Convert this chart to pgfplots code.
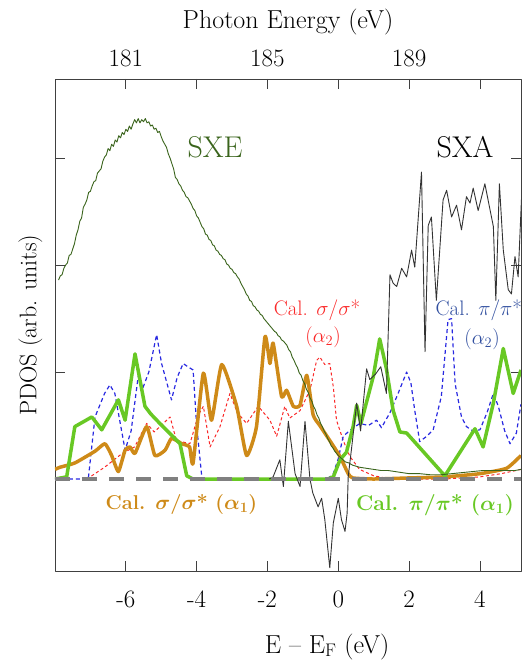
\documentclass[border=0pt]{standalone}
\usepackage{amsmath}
\usepackage{fontspec}
\usepackage{pgfplots}
\pgfplotsset{compat=1.18}
\definecolor{sxegreen}{RGB}{58,100,28}
\definecolor{pigreen}{RGB}{104,200,36}
\definecolor{sigorange}{RGB}{206,138,24}
\definecolor{sigred}{RGB}{250,40,40}
\definecolor{piblue}{RGB}{40,40,225}
\definecolor{pitext}{RGB}{50,80,160}
\definecolor{zerogray}{RGB}{128,128,128}
\newcommand{\fs}{\fontsize{25}{29}\selectfont}
\newcommand{\fl}{\fontsize{26}{30}\selectfont}
\newcommand{\fy}{\fontsize{24}{28}\selectfont}
\newcommand{\fc}{\fontsize{21}{25}\selectfont}

\begin{document}
\begin{tikzpicture}
\useasboundingbox (-55pt,-93pt) rectangle (473pt,571pt);
\begin{axis}[
  at={(0pt,0pt)}, anchor=south west,
  width=466pt, height=492pt, scale only axis,
  xmin=-8, xmax=5.16, ymin=-0.86, ymax=3.74,
  xtick={-6,-4,-2,0,2,4}, xticklabels={-6,-4,-2,0,2,4},
  ytick={1,2,3}, yticklabels={},
  major tick length=10pt,
  tick style={black!75, line width=0.8pt},
  axis line style={black!75, line width=0.9pt},
  tick label style={font=\fs},
  xticklabel style={anchor=base, yshift=-36pt},
  xlabel={E -- E$_{\mathrm{F}}$ (eV)},
  xlabel style={font=\fl, at={(axis description cs:0.584,0)}, anchor=base, yshift=-82pt},
  ylabel={PDOS (arb. units)},
  ylabel style={font=\fy, at={(axis description cs:-0.040,0.5)}, anchor=base},
  clip mode=individual,
  line join=round,
]
% ---- calculated alpha2 (dashed) ----
\addplot[sigred, line width=1pt, dash pattern=on 3pt off 2.5pt] coordinates {
(-7.1,0.0) (-6.6,0.11) (-6.1,0.24) (-5.75,0.30) (-5.41,0.52) (-5.2,0.44) (-5.0,0.50)
(-4.75,0.58) (-4.57,0.36) (-4.19,0.33) (-3.95,0.60) (-3.81,0.68) (-3.62,0.30) (-3.34,0.49)
(-3.06,0.80) (-2.85,0.62) (-2.59,0.52) (-2.26,0.68) (-1.93,0.55) (-1.74,0.40) (-1.51,0.68)
(-1.37,0.57) (-1.08,0.64) (-0.80,0.83) (-0.61,1.11) (-0.52,1.14) (-0.38,1.07) (-0.24,1.08)
(-0.14,0.86) (-0.05,0.55) (0.14,0.36) (0.33,0.21) (0.6,0.09) (1.0,0.03) (1.5,0.0)
(3.0,0.0) (4.0,0.02) (4.6,0.05) (5.16,0.09)};
\addplot[piblue, line width=1.2pt, dash pattern=on 4pt off 3pt] coordinates {
(-8,0) (-7.06,0) (-6.87,0.58) (-6.6,0.80) (-6.45,0.88) (-6.31,0.80) (-6.02,0.27)
(-5.85,0.45) (-5.65,0.96) (-5.52,0.85) (-5.35,1.0) (-5.13,1.35) (-4.99,1.08) (-4.71,0.74)
(-4.55,0.95) (-4.38,1.08) (-4.25,1.05) (-4.1,1.02) (-4.0,0.50) (-3.86,0.04) (-3.8,0)
(-0.3,0) (-0.14,0.05) (0.0,0.19) (0.14,0.40) (0.35,0.46) (0.61,0.52) (0.85,0.50)
(1.08,0.55) (1.22,0.48) (1.46,0.62) (1.69,0.80) (1.93,1.0) (2.05,0.90) (2.16,0.64)
(2.30,0.35) (2.5,0.40) (2.68,0.46) (2.91,0.77) (3.1,1.49) (3.2,1.50) (3.3,0.89)
(3.48,0.58) (3.62,0.49) (3.8,0.45) (4.0,0.46) (4.2,0.62) (4.38,0.80) (4.52,0.68)
(4.7,0.45) (4.85,0.33) (5.03,0.43) (5.16,0.70)};
% ---- calculated alpha1 (thick) ----
\addplot[sigorange, line width=3.5pt, smooth, tension=0.3] coordinates {
(-8.0,0.09) (-7.86,0.11) (-7.44,0.15) (-6.87,0.26) (-6.59,0.33) (-6.40,0.22) (-6.21,0.07)
(-6.02,0.27) (-5.88,0.30) (-5.74,0.24) (-5.41,0.49) (-5.18,0.22) (-4.89,0.27) (-4.71,0.38)
(-4.42,0.33) (-4.20,0.30) (-4.10,0.15) (-3.81,0.99) (-3.58,0.55) (-3.29,1.07) (-2.87,0.68)
(-2.59,0.22) (-2.31,0.49) (-2.07,1.33) (-1.93,1.08) (-1.84,1.27) (-1.60,0.77) (-1.46,0.83)
(-1.27,0.68) (-1.08,0.69) (-0.89,0.97) (-0.71,0.60) (-0.52,0.50) (-0.24,0.36) (0.05,0.21)
(0.28,0.05) (0.41,0.01) (1.0,0.0) (2.0,0.01) (3.0,0.02) (4.0,0.05) (4.75,0.10) (5.16,0.22)};
\addplot[pigreen, line width=3.5pt] coordinates {
(-8.0,0.0) (-7.67,0.02) (-7.44,0.49) (-6.96,0.58) (-6.68,0.46) (-6.21,0.74) (-6.02,0.55)
(-5.74,1.17) (-5.46,0.68) (-5.30,0.61) (-5.04,0.52) (-4.47,0.33) (-4.28,0.03) (-4.1,0.0)
(-0.3,0.0) (-0.14,0.02) (0.05,0.18) (0.23,0.25) (0.42,0.49) (0.52,0.69) (0.64,0.52)
(0.99,0.96) (1.17,1.31) (1.36,1.03) (1.55,0.64) (1.74,0.44) (1.93,0.43) (2.12,0.36)
(3.01,0.03) (3.86,0.47) (4.09,0.30) (4.38,0.71) (4.66,1.22) (4.94,0.80) (5.16,1.02)};
% ---- SXE ----
\addplot[sxegreen, line width=0.9pt] coordinates {
(-7.90,1.86) (-7.85,1.90) (-7.80,1.91) (-7.75,1.97) (-7.70,2.00) (-7.65,2.02) (-7.60,2.09)
(-7.55,2.10) (-7.50,2.15) (-7.45,2.20) (-7.40,2.28) (-7.35,2.33) (-7.30,2.41) (-7.25,2.44)
(-7.20,2.54) (-7.15,2.57) (-7.10,2.61) (-7.05,2.68) (-7.00,2.69) (-6.95,2.74) (-6.90,2.78)
(-6.85,2.79) (-6.80,2.86) (-6.75,2.88) (-6.70,2.90) (-6.65,2.97) (-6.60,3.01) (-6.55,3.03)
(-6.50,3.09) (-6.45,3.07) (-6.40,3.13) (-6.35,3.11) (-6.30,3.17) (-6.25,3.15) (-6.20,3.21)
(-6.15,3.19) (-6.10,3.24) (-6.05,3.22) (-6.00,3.27) (-5.95,3.25) (-5.90,3.30) (-5.85,3.27)
(-5.80,3.32) (-5.75,3.36) (-5.70,3.33) (-5.65,3.37) (-5.60,3.33) (-5.55,3.36) (-5.50,3.34)
(-5.45,3.37) (-5.40,3.33) (-5.35,3.34) (-5.30,3.30) (-5.25,3.31) (-5.20,3.27) (-5.15,3.28)
(-5.10,3.24) (-5.05,3.25) (-5.00,3.20) (-4.95,3.16) (-4.90,3.13) (-4.85,3.10) (-4.80,3.04)
(-4.75,3.00) (-4.70,2.95) (-4.65,2.90) (-4.60,2.82) (-4.55,2.80) (-4.50,2.76) (-4.45,2.74)
(-4.40,2.70) (-4.35,2.68) (-4.30,2.64) (-4.25,2.63) (-4.20,2.60) (-4.15,2.57) (-4.10,2.53)
(-4.05,2.51) (-4.00,2.46) (-3.95,2.44) (-3.90,2.40) (-3.85,2.36) (-3.80,2.34) (-3.75,2.29)
(-3.70,2.28) (-3.65,2.24) (-3.60,2.23) (-3.55,2.19) (-3.50,2.18) (-3.45,2.14) (-3.40,2.13)
(-3.35,2.10) (-3.30,2.09) (-3.25,2.06) (-3.20,2.05) (-3.15,2.01) (-3.10,2.00) (-3.05,1.97)
(-3.00,1.96) (-2.95,1.93) (-2.90,1.92) (-2.85,1.89) (-2.80,1.87) (-2.75,1.83) (-2.70,1.80)
(-2.65,1.77) (-2.60,1.73) (-2.55,1.71) (-2.50,1.67) (-2.45,1.66) (-2.40,1.62) (-2.35,1.61)
(-2.30,1.58) (-2.25,1.57) (-2.20,1.54) (-2.15,1.53) (-2.10,1.50) (-2.05,1.48) (-2.00,1.46)
(-1.95,1.44) (-1.90,1.42) (-1.85,1.40) (-1.80,1.38) (-1.75,1.37) (-1.70,1.34) (-1.65,1.33)
(-1.60,1.30) (-1.55,1.29) (-1.50,1.27) (-1.45,1.25) (-1.40,1.21) (-1.35,1.19) (-1.30,1.14)
(-1.25,1.11) (-1.20,1.07) (-1.15,1.04) (-1.10,0.99) (-1.05,0.97) (-1.00,0.92) (-0.95,0.89)
(-0.90,0.84) (-0.85,0.81) (-0.80,0.76) (-0.75,0.73) (-0.70,0.68) (-0.65,0.65) (-0.60,0.60)
(-0.55,0.57) (-0.50,0.52) (-0.45,0.49) (-0.40,0.45) (-0.35,0.42) (-0.30,0.38) (-0.25,0.35)
(-0.20,0.31) (-0.15,0.29) (-0.10,0.26) (-0.05,0.24) (0.00,0.22) (0.10,0.19) (0.20,0.16)
(0.30,0.15) (0.40,0.13) (0.50,0.12) (0.60,0.11) (0.80,0.10) (1.00,0.09) (1.20,0.08)
(1.40,0.08) (1.60,0.07) (1.80,0.06) (2.00,0.05) (2.30,0.05) (2.60,0.04) (2.90,0.04)
(3.20,0.05) (3.50,0.06) (3.80,0.07) (4.10,0.08) (4.40,0.08) (4.70,0.08) (5.00,0.08) (5.16,0.09)};
% ---- SXA ----
\addplot[black!80, line width=0.9pt] coordinates {
(-1.95,0.0) (-1.84,0.02) (-1.65,0.18) (-1.55,-0.07) (-1.41,0.54) (-1.22,0.05) (-1.08,-0.07)
(-0.94,0.54) (-0.80,0.0) (-0.72,-0.13) (-0.57,-0.26) (-0.47,-0.18) (-0.38,-0.38) (-0.24,-0.83)
(-0.14,-0.41) (0.0,-0.18) (0.09,-0.38) (0.19,-0.49) (0.25,-0.32) (0.28,0.02) (0.38,0.30)
(0.52,0.71) (0.63,0.45) (0.80,1.03) (0.89,0.93) (1.05,0.98) (1.20,1.05) (1.36,0.80)
(1.46,1.91) (1.55,1.83) (1.65,1.80) (1.79,1.97) (1.93,1.89) (2.07,2.14) (2.16,1.98)
(2.35,2.87) (2.45,1.19) (2.54,2.37) (2.63,2.45) (2.77,1.67) (2.96,2.61) (3.06,2.70)
(3.20,2.45) (3.34,2.56) (3.48,2.33) (3.62,2.64) (3.72,2.58) (3.81,2.72) (3.95,2.51)
(4.14,2.76) (4.38,2.36) (4.45,1.67) (4.55,2.76) (4.66,2.14) (4.80,1.77) (4.89,1.73)
(4.99,2.08) (5.08,1.89) (5.22,2.98)};
% ---- zero line ----
\addplot[zerogray, line width=4.5pt, dash pattern=on 15pt off 12pt] coordinates {(-8,0) (5.16,0)};

% ---- labels ----
\node[font=\fontsize{30}{34}\selectfont, text=sxegreen] at (axis cs:-3.48,3.10) {SXE};
\node[font=\fontsize{30}{34}\selectfont, text=black] at (axis cs:3.58,3.10) {SXA};
\node[font=\fc, text=sigred] at (axis cs:-0.60,1.58) {Cal. $\sigma$/$\sigma$*};
\node[font=\fc, text=sigred] at (axis cs:-0.43,1.33) {($\alpha_2$)};
\node[font=\fc, text=pitext] at (axis cs:3.97,1.58) {Cal. $\pi$/$\pi$*};
\node[font=\fc, text=pitext] at (axis cs:4.06,1.31) {($\alpha_2$)};
\node[font=\bfseries\fontsize{20}{24}\selectfont, text=sigorange] at (axis cs:-4.43,-0.24) {Cal. $\boldsymbol{\sigma}$/$\boldsymbol{\sigma}$* ($\boldsymbol{\alpha_1}$)};
\node[font=\bfseries\fontsize{21.3}{25}\selectfont, text=pigreen] at (axis cs:2.73,-0.24) {Cal. $\boldsymbol{\pi}$/$\boldsymbol{\pi}$* ($\boldsymbol{\alpha_1}$)};
\end{axis}
% ---- top photon-energy scale ----
\begin{axis}[
  at={(0pt,0pt)}, anchor=south west,
  width=466pt, height=492pt, scale only axis,
  xmin=-8, xmax=5.16, ymin=-0.86, ymax=3.74,
  axis x line*=top, axis y line=none,
  axis line style={draw=none},
  xtick={-6,-4,-2,0,2,4}, xticklabels={181,,185,,189,},
  major tick length=0pt,
  tick label style={font=\fs},
  xticklabel style={anchor=base, yshift=12pt},
  xlabel={Photon Energy (eV)},
  xlabel style={font=\fl, at={(axis description cs:0.5,1)}, anchor=base, yshift=50pt},
]
\end{axis}
\end{tikzpicture}
\end{document}
